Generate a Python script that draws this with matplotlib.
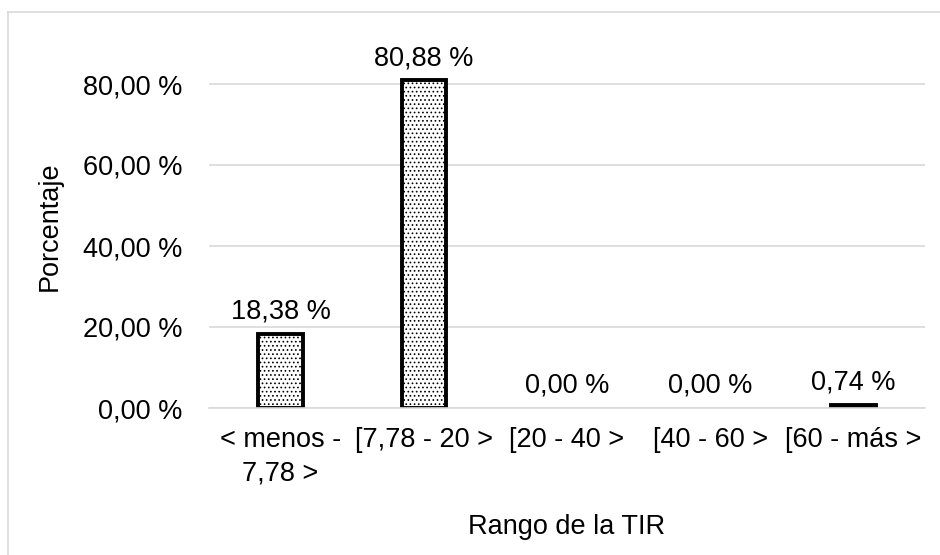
import matplotlib.pyplot as plt
from matplotlib.lines import Line2D

plt.rcParams['font.family'] = ['Liberation Sans', 'DejaVu Sans']
plt.rcParams['hatch.linewidth'] = 0.7

categorias = ['< menos -\n7,78 >', '[7,78 - 20 >', '[20 - 40 >', '[40 - 60 >', '[60 - más >']
porcentajes = [18.38, 80.88, 0.00, 0.00, 0.74]
etiquetas = ['18,38 %', '80,88 %', '0,00 %', '0,00 %', '0,74 %']
yticks = [0, 20, 40, 60, 80]
ytick_labels = ['0,00 %', '20,00 %', '40,00 %', '60,00 %', '80,00 %']

W, H = 940, 555
fig = plt.figure(figsize=(W / 100, H / 100), dpi=100)
ax = fig.add_axes([209 / W, 1 - 408 / H, (925 - 209) / W, (408 - 43.5) / H])

# marco gris del grafico
fig.add_artist(Line2D([8 / W, 1], [1 - 12 / H, 1 - 12 / H], color='#d9d9d9', lw=1.2))
fig.add_artist(Line2D([8 / W, 8 / W], [0, 1 - 12 / H], color='#d9d9d9', lw=1.2))

x = range(len(categorias))
bordes = [2.8 if v > 0 else 0 for v in porcentajes]
ax.bar(x, porcentajes, width=0.31, color='white', edgecolor='black',
       linewidth=bordes, hatch='....', zorder=3)

for i, (v, t) in enumerate(zip(porcentajes, etiquetas)):
    ax.annotate(t, (i, v), xytext=(0, 11), textcoords='offset points',
                ha='center', va='baseline', fontsize=19.5)

ax.set_xlim(-0.5, len(categorias) - 0.5)
ax.set_ylim(0, 90)
ax.set_yticks(yticks)
ax.set_yticklabels(ytick_labels)
ax.yaxis.grid(True, color='#d9d9d9', linewidth=1.2, zorder=0)
ax.set_axisbelow(True)

ax.set_xticks(list(x))
ax.set_xticklabels(categorias, linespacing=1.35)
ax.tick_params(axis='both', length=0, labelsize=19.5)
ax.tick_params(axis='y', pad=19)
ax.tick_params(axis='x', pad=14)

for s in ['top', 'right', 'left']:
    ax.spines[s].set_visible(False)
ax.spines['bottom'].set_color('#d9d9d9')
ax.spines['bottom'].set_linewidth(1.2)
ax.spines['bottom'].set_zorder(4)

ax.set_ylabel('Porcentaje', fontsize=19.5, labelpad=15)
ax.set_xlabel('Rango de la TIR', fontsize=19.5, labelpad=20)

fig.savefig('out.png', dpi=100)
